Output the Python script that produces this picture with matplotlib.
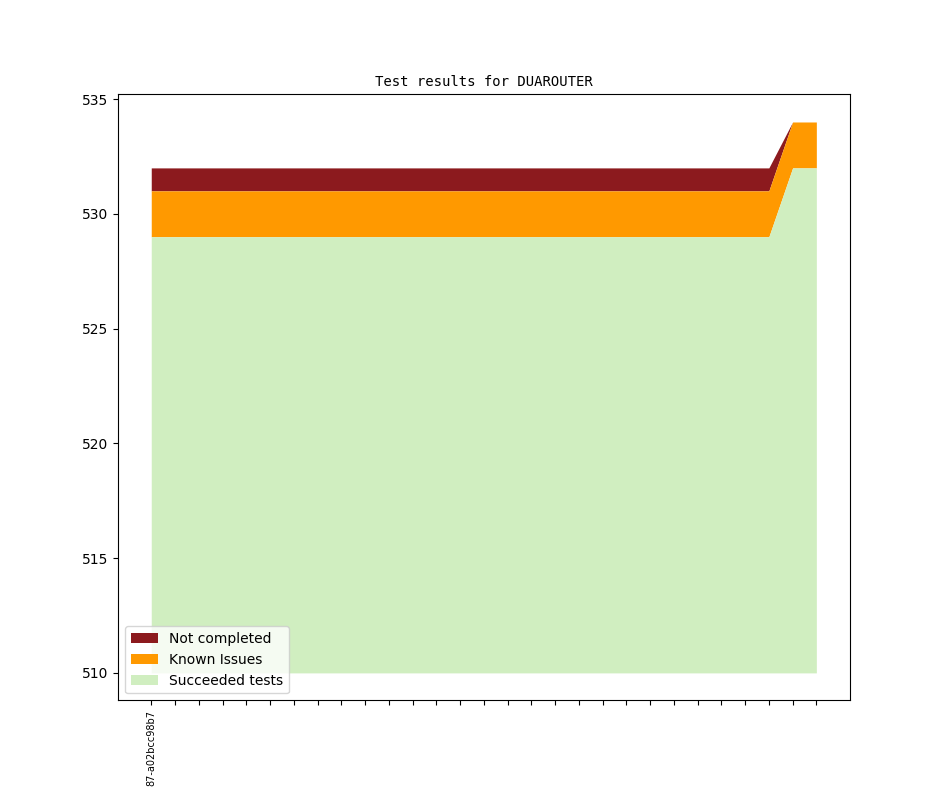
import numpy as np
import matplotlib
matplotlib.use('Agg')
import matplotlib.pyplot as plt

# revisions (only the first one has a label)
revisions = ['87-a02bcc98b7'] + [''] * 28
succeeded = [529] * 27 + [532, 532]
known_issues = [2] * 27 + [2, 2]
not_completed = [1] * 27 + [0, 0]
base = 510

x = np.arange(len(revisions))
s = np.array(succeeded)
k = s + np.array(known_issues)
n = k + np.array(not_completed)

fig = plt.figure(figsize=(9.44, 7.87), dpi=100)
ax = fig.add_subplot(111)
ax.fill_between(x, k, n, color='#8c1a1e', linewidth=0, label='Not completed')
ax.fill_between(x, s, k, color='#ff9900', linewidth=0, label='Known Issues')
ax.fill_between(x, base, s, color='#d0eec0', linewidth=0, label='Succeeded tests')

ax.set_xticks(x)
ax.set_xticklabels(revisions, rotation=90, fontsize=7)
ax.set_title('Test results for DUAROUTER', family='monospace', fontsize=10)
ax.legend(loc='lower left')

plt.savefig('out.png')
